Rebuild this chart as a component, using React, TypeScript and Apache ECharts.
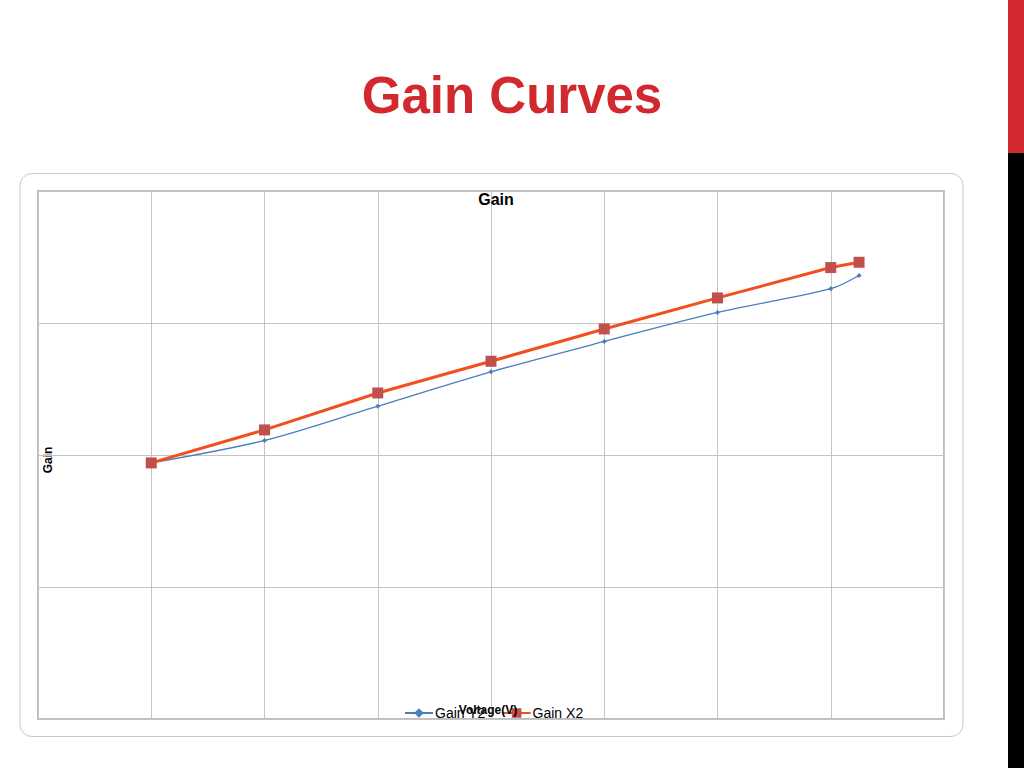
import React, { useEffect, useRef } from "react";
import * as echarts from "echarts";

const voltage = [1, 2, 3, 4, 5, 6, 7, 7.25];
const gainY2 = [1.94, 2.11, 2.37, 2.63, 2.86, 3.08, 3.26, 3.36];
const gainX2 = [1.94, 2.19, 2.47, 2.71, 2.955, 3.19, 3.42, 3.46];
const seriesNames = ["Gain Y2", "Gain X2"];

export default function App() {
  const ref = useRef<HTMLDivElement>(null);
  useEffect(() => {
    const chart = echarts.init(ref.current!, null, { renderer: "svg" });
    chart.setOption({
      animation: false,
      backgroundColor: "#ffffff",
      title: [
        {
          text: "Gain Curves",
          left: "center",
          top: 65,
          textStyle: { color: "#d2292f", fontSize: 51, fontWeight: "bold", fontFamily: "Liberation Sans" },
        },
        {
          text: "Gain",
          left: 491,
          textAlign: "center",
          top: 186,
          textStyle: { color: "#000", fontSize: 16, fontWeight: "bold", fontFamily: "Liberation Sans" },
        },
      ],
      graphic: [
        { type: "rect", shape: { x: 1008, y: 0, width: 16, height: 153 }, style: { fill: "#d2292f" } },
        { type: "rect", shape: { x: 1008, y: 153, width: 16, height: 615 }, style: { fill: "#000" } },
        {
          type: "rect",
          shape: { x: 20, y: 173.5, width: 943, height: 563, r: 12 },
          style: { fill: "none", stroke: "#c8c8c8", lineWidth: 1 },
          z: -1,
        },
        {
          type: "text",
          x: 48,
          y: 460,
          rotation: Math.PI / 2,
          style: { text: "Gain", fill: "#000", font: "bold 12px 'Liberation Sans'", align: "center", verticalAlign: "middle" },
        },
        {
          type: "text",
          x: 488,
          y: 710,
          z: 5,
          style: { text: "Voltage(V)", fill: "#000", font: "bold 12px 'Liberation Sans'", align: "center", verticalAlign: "middle" },
        },
      ],
      legend: {
        data: seriesNames,
        left: 399,
        top: 701,
        itemWidth: 28,
        itemHeight: 12,
        itemGap: 16,
        textStyle: { color: "#000", fontSize: 14, fontFamily: "Liberation Sans", padding: [0, 0, 0, -3] },
        z: 4,
      },
      grid: {
        left: 38,
        top: 191,
        width: 906,
        height: 528,
        show: true,
        borderColor: "#bdbdbd",
        borderWidth: 2,
      },
      xAxis: {
        type: "value",
        min: 0,
        max: 8,
        interval: 1,
        axisLine: { show: false },
        axisTick: { show: false },
        axisLabel: { show: false },
        splitLine: { show: true, lineStyle: { color: "#c4c4c4", width: 1 } },
      },
      yAxis: {
        type: "value",
        min: 0,
        max: 4,
        interval: 1,
        axisLine: { show: false },
        axisTick: { show: false },
        axisLabel: { show: false },
        splitLine: { show: true, lineStyle: { color: "#c4c4c4", width: 1 } },
      },
      series: [
        {
          name: seriesNames[0],
          type: "line",
          data: voltage.map((v, i) => [v, gainY2[i]]),
          smooth: 0.3,
          symbol: "diamond",
          symbolSize: 5,
          lineStyle: { color: "#4a7ebb", width: 1.3 },
          itemStyle: { color: "#4a7ebb" },
          z: 2,
        },
        {
          name: seriesNames[1],
          type: "line",
          data: voltage.map((v, i) => [v, gainX2[i]]),
          symbol: "rect",
          symbolSize: 11,
          lineStyle: { color: "#f24e1e", width: 3 },
          itemStyle: { color: "#c0504d" },
          z: 3,
        },
      ],
    });
    return () => chart.dispose();
  }, []);
  return <div ref={ref} style={{ position: "fixed", left: 0, top: 0, width: 1024, height: 768 }} />;
}
